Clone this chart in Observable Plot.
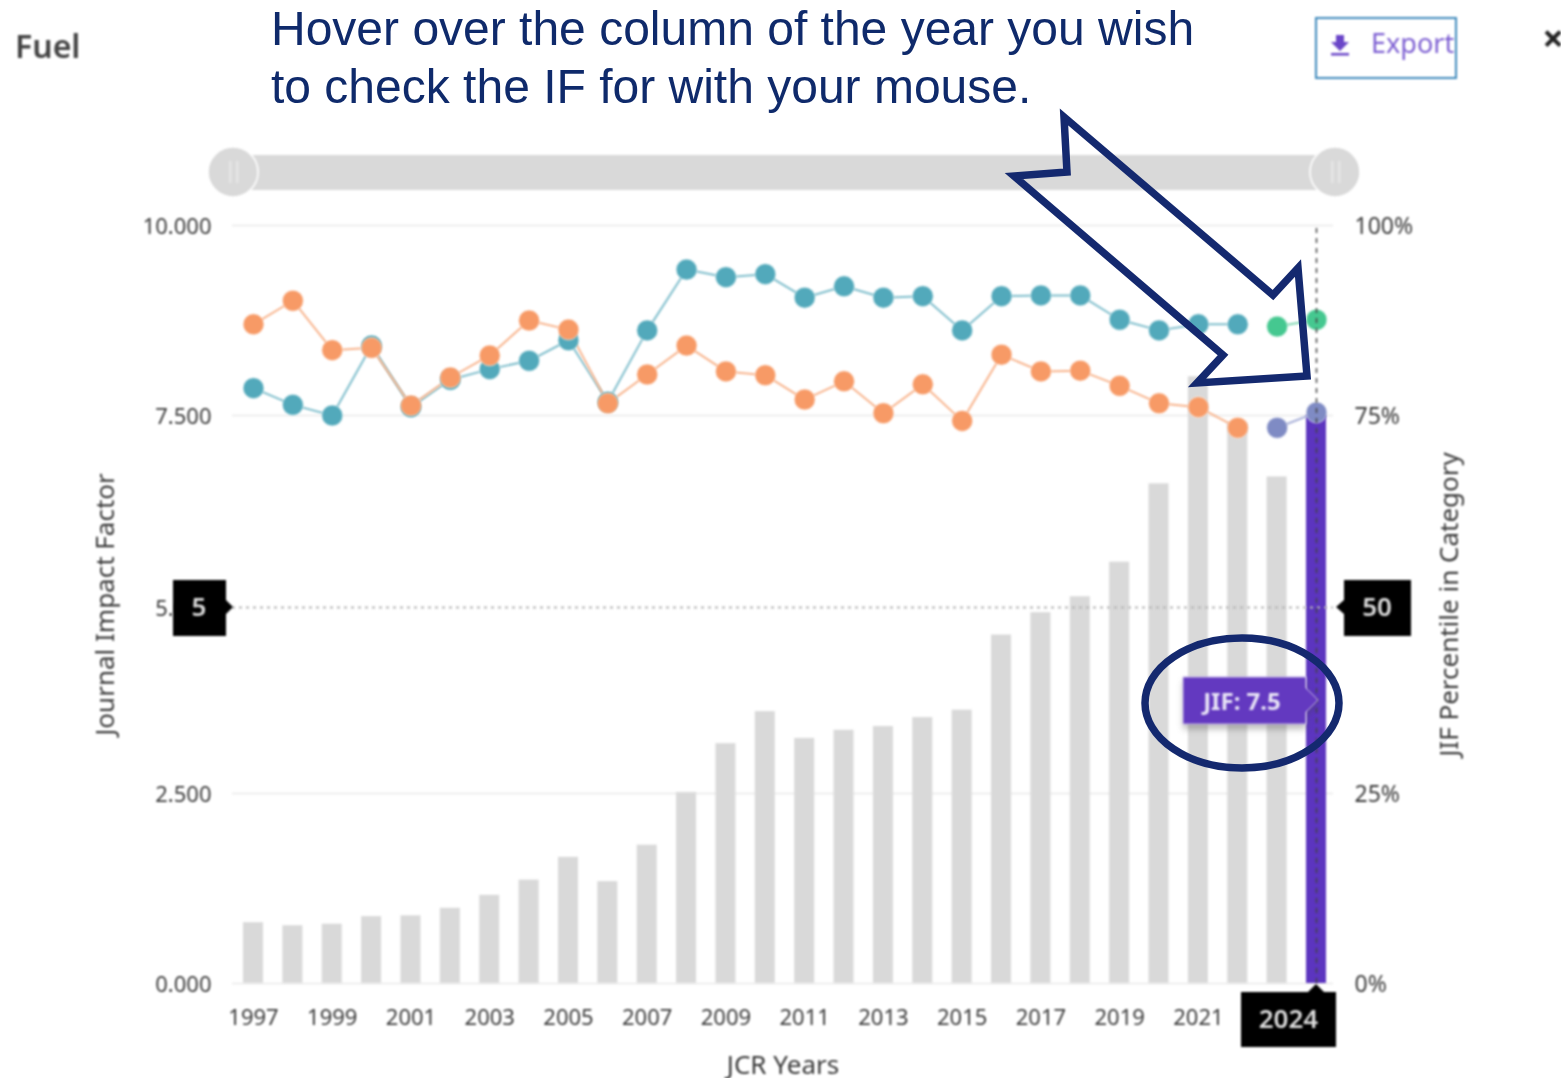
<!DOCTYPE html>
<html>
<head>
<meta charset="utf-8">
<style>
html,body{margin:0;padding:0;background:#fff;overflow:hidden}
svg{display:block;font-family:"Noto Sans",sans-serif}
svg>g:not(.annot){filter:blur(.8px)}
svg g[aria-label$="axis label"]{font-size:26px}
</style>
<script src="https://cdn.jsdelivr.net/npm/d3@7"></script>
<script src="https://cdn.jsdelivr.net/npm/@observablehq/plot@0.6"></script>
</head>
<body>
<div id="chart"></div>
<script>
const years = [1997,1998,1999,2000,2001,2002,2003,2004,2005,2006,2007,2008,2009,2010,2011,2012,2013,2014,2015,2016,2017,2018,2019,2020,2021,2022,2023,2024];
const jif = [0.80,0.76,0.78,0.88,0.89,0.99,1.16,1.36,1.66,1.34,1.82,2.51,3.17,3.60,3.24,3.35,3.40,3.52,3.62,4.63,4.93,5.14,5.59,6.61,8.01,7.40,6.70,7.50];
const percentileTeal = [7.86,7.64,7.50,8.42,7.61,7.97,8.11,8.22,8.49,7.68,8.62,9.42,9.32,9.36,9.05,9.20,9.05,9.07,8.62,9.07,9.08,9.08,8.76,8.62,8.70,8.70];
const percentileGreen = [8.67,8.76];
const percentileOrange = [8.70,9.01,8.36,8.39,7.63,8.00,8.29,8.75,8.63,7.66,8.04,8.42,8.08,8.03,7.71,7.95,7.53,7.91,7.43,8.30,8.08,8.09,7.89,7.66,7.61,7.34];
const percentileViolet = [7.34,7.54];
const yearTicks = [1997,1999,2001,2003,2005,2007,2009,2011,2013,2015,2017,2019,2021];
const leftTicks = [0,2.5,5,7.5,10];
const rightTicks = [0,2.5,5,7.5,10];
const selectedYear = 2024;
const selectedJif = 7.5;
const medianValue = 5;
const noteLines = ["Hover over the column of the year you wish","to check the IF for with your mouse."];

const bars = years.map((year,i)=>({year,value:jif[i]}));
const series = (vals,start)=>vals.map((v,i)=>({year:years[start+i],v}));
const teal = series(percentileTeal,0);
const green = series(percentileGreen,26);
const orange = series(percentileOrange,0);
const violet = series(percentileViolet,26);

const NAVY="#14296f", INK="#3a3a3a";

function append(g,tag,attrs,text){
  const el=g.append(tag);
  for(const k in attrs) el.attr(k,attrs[k]);
  if(text!==undefined) el.text(text);
  return el;
}

// Page furniture around the chart: title, export, slider
function furniture(){
  const g=d3.create("svg:g").attr("class","furn").attr("text-anchor","start");
  append(g,"text",{x:15,y:58,"font-size":32,"font-weight":600,fill:"#444"},"Fuel");
  append(g,"rect",{x:1316,y:18,width:140,height:60,fill:"#fff",stroke:"#3f8abc","stroke-width":2});
  append(g,"path",{d:"M1336 35h8v7h5l-9 9-9-9h5z M1331 53h18v2.4h-18z",fill:"#6a45c8"});
  append(g,"text",{x:1371,y:53,"font-size":27,fill:"#7d5fd2"},"Export");
  append(g,"text",{x:1553,y:52,"text-anchor":"middle","font-size":38,"font-weight":700,fill:"#222"},"\u00d7");
  append(g,"rect",{x:233,y:155,width:1102,height:35,fill:"#d9d9d9"});
  for(const cx of [233,1335]){
    append(g,"circle",{cx,cy:172,r:25,fill:"#d9d9d9",stroke:"#fff","stroke-width":1.6});
    for(const dx of [-4,3]) append(g,"rect",{x:cx+dx,y:161,width:2.5,height:22,fill:"#e6e6e6"});
  }
  return g.node();
}

// Value callouts anchored through the chart's own scales
function callouts(index,{x,y}){
  const g=d3.create("svg:g").attr("class","callouts");
  const ym=y(medianValue), xs=x(selectedYear), yb=y(0), yj=700;
  append(g,"path",{d:`M173 ${ym-27}H226V${ym-7}L233 ${ym}L226 ${ym+7}V${ym+29}H173Z`,fill:"#000"});
  append(g,"text",{x:199,y:ym+9,"text-anchor":"middle","font-size":26,"font-weight":600,fill:"#ddd"},"5");
  append(g,"path",{d:`M1411 ${ym-27}H1344V${ym-7}L1336 ${ym}L1344 ${ym+7}V${ym+29}H1411Z`,fill:"#000"});
  append(g,"text",{x:1377,y:ym+9,"text-anchor":"middle","font-size":26,"font-weight":600,fill:"#ddd"},String(medianValue*10));
  append(g,"path",{d:`M1241 992H${xs-8}L${xs} ${yb+1}L${xs+8} 992H1336V1047H1241Z`,fill:"#000"});
  append(g,"text",{x:1288.5,y:1028,"text-anchor":"middle","font-size":26,"font-weight":600,fill:"#ddd"},String(selectedYear));
  append(g,"path",{d:`M1183 677H1306V688L1318 ${yj}L1306 712V725H1183Z`,fill:"rgba(60,60,60,.35)",transform:"translate(0,4)",style:"filter:blur(3px)"});
  append(g,"path",{d:`M1183 677H1306V688L1318 ${yj}L1306 712V724H1183Z`,fill:"#6339c0",stroke:"#cbbdea","stroke-width":1});
  append(g,"text",{x:1242,y:710,"text-anchor":"middle","font-size":24,"font-weight":700,fill:"#e8e4f6"},`JIF: ${selectedJif}`);
  return g.node();
}

// Hand-drawn presentation annotations laid over the screenshot
function annotations(){
  const g=d3.create("svg:g").attr("class","annot").attr("text-anchor","start");
  noteLines.forEach((t,i)=>append(g,"text",{x:271,y:45+i*58,"font-size":48,fill:"#0f2a6b","font-family":"'Liberation Sans',Arial,sans-serif"},t));
  append(g,"path",{d:"M1064 117L1067 172L1014 176L1223 355L1197 383L1307 376L1298 268L1273 295Z",fill:"none",stroke:NAVY,"stroke-width":7.5,"stroke-linejoin":"miter","stroke-miterlimit":8});
  append(g,"ellipse",{cx:1242,cy:703,rx:97,ry:65,fill:"none",stroke:NAVY,"stroke-width":7.5});
  return g.node();
}

const dotOpts={x:"year",y:"v",r:10.5,stroke:"#fff",strokeWidth:0.6};

const chart=Plot.plot({
  width:1561,height:1078,
  marginLeft:232,marginRight:228,marginTop:225,marginBottom:95,
  style:{background:"#fff",color:INK,fontFamily:"'Noto Sans',sans-serif"},
  x:{type:"linear",domain:[1997,2024],range:[253,1316]},
  y:{type:"linear",domain:leftTicks,range:[983,793,607,415,225]},
  marks:[
    furniture,
    Plot.ruleY(leftTicks.filter(d=>d!==medianValue),{stroke:"#eeeeee",strokeWidth:2}),
    Plot.axisY({anchor:"left",ticks:leftTicks,tickSize:0,tickPadding:21,fontSize:22,dy:1,tickFormat:d=>d3.format(".3f")(d),label:"Journal Impact Factor",labelAnchor:"center",labelOffset:137,labelArrow:"none"}),
    Plot.axisY({anchor:"right",ticks:rightTicks,tickSize:0,tickPadding:21,fontSize:23,dy:1,tickFormat:d=>(d*10)+"%",label:"JIF Percentile in Category",labelAnchor:"center",labelOffset:124,labelArrow:"none"}),
    Plot.axisX({anchor:"bottom",ticks:yearTicks,tickSize:0,tickPadding:26,fontSize:22,tickFormat:d=>String(d),label:"JCR Years",labelAnchor:"center",labelOffset:90,labelArrow:"none"}),
    Plot.rect(bars.filter(d=>d.year!==selectedYear),{x1:d=>d.year-0.254,x2:d=>d.year+0.254,y1:0,y2:"value",fill:"#d9d9d9"}),
    Plot.rect(bars.filter(d=>d.year===selectedYear),{x1:d=>d.year-0.254,x2:d=>d.year+0.254,y1:0,y2:"value",fill:"#5c35bf"}),
    Plot.ruleY([medianValue],{stroke:"#b5b5b5",strokeWidth:2,strokeDasharray:"3,4"}),
    Plot.line(teal,{x:"year",y:"v",stroke:"#7fbecc",strokeWidth:2}),
    Plot.line(green,{x:"year",y:"v",stroke:"#7fd8b2",strokeWidth:2}),
    Plot.line(orange,{x:"year",y:"v",stroke:"#f8b48d",strokeWidth:2}),
    Plot.line(violet,{x:"year",y:"v",stroke:"#a9b1d9",strokeWidth:2}),
    Plot.dot(teal,{...dotOpts,fill:"#52a9bb"}),
    Plot.dot(green,{...dotOpts,fill:"#45c890"}),
    Plot.dot(orange,{...dotOpts,fill:"#f79a66"}),
    Plot.dot(violet,{...dotOpts,fill:"#7f8bc4"}),
    Plot.ruleX([selectedYear],{y1:0,y2:10,stroke:"#444",strokeWidth:1.5,strokeDasharray:"5,5"}),
    callouts,
    annotations
  ]
});
document.getElementById("chart").appendChild(chart);
</script>
</body>
</html>
